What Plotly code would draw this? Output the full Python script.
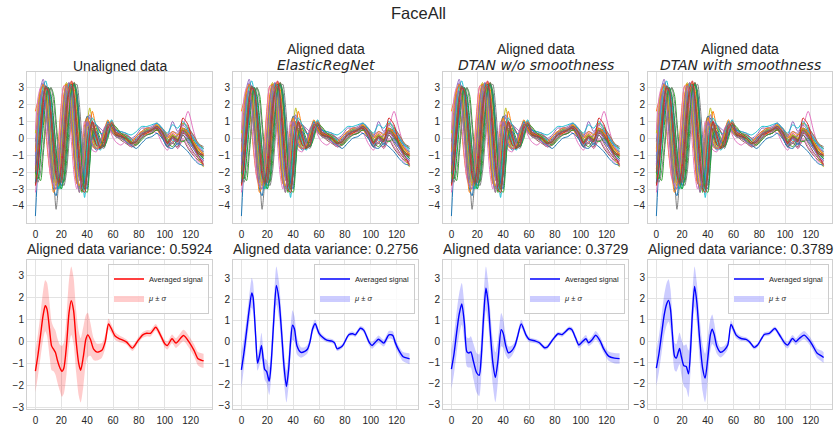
import plotly.graph_objects as go

# ---------------- data: top row (individual series, sampled time grid) ----------------
top_t = [0, 2, 4, 6, 8, 10, 12, 14, 16, 18, 20, 22, 24, 26, 28, 30, 32, 34, 36, 38, 40, 42, 44,
         47, 50, 53, 56, 59, 62, 66, 70, 74, 78, 82, 86, 90, 94, 98, 102, 106, 110, 114, 118, 122, 126, 130]

series_01 = [-4.6, -1.5, 1.2, 2.6, 2.9, 1.5, -0.8, -2.2, -2.6, -1.8, 0.2, 2.2, 3.2, 3.0, 1.6, -0.5, -2.3, -2.9, -2.0, -0.3, 0.9, 0.6, -0.3,
             -0.7, -0.5, 0.3, 1.0, 0.4, 0.1, 0.0, -0.1, -0.4, 0.0, 0.3, 0.5, 0.4, 0.7, 0.2, -0.4, 0.1, -0.2, 0.5, 0.0, -0.5, -0.9, -1.2]
series_02 = [1.6, 2.2, 2.6, 1.8, 0.4, -1.2, -2.3, -2.6, -1.9, 0.0, 2.0, 3.1, 3.2, 2.2, 0.5, -1.4, -2.7, -2.4, -0.8, 0.8, 1.3, 0.4, -0.5,
             -0.6, -0.2, 0.5, 0.8, 0.3, 0.2, 0.1, -0.2, -0.3, 0.1, 0.4, 0.3, 0.6, 0.5, 0.0, -0.2, 0.3, 0.0, 0.3, 0.2, -0.2, -0.7, -0.9]
series_03 = [-1.0, -2.2, -2.5, -1.0, 0.8, 2.4, 3.0, 2.6, 1.0, -0.8, -2.2, -2.6, -1.5, 0.5, 2.4, 3.3, 2.8, 1.0, -1.2, -2.6, -2.2, -0.4, 0.6,
             0.0, -0.6, -0.3, 0.7, 0.9, 0.3, 0.2, 0.1, -0.2, -0.3, 0.2, 0.5, 0.5, 0.8, 0.4, -0.1, 0.0, 0.2, 0.6, 0.4, -0.1, -0.6, -0.8]
series_04 = [-2.3, -1.0, 0.6, 2.2, 3.0, 2.6, 1.0, -0.8, -2.0, -2.6, -2.2, -0.8, 1.2, 2.8, 3.2, 2.4, 0.4, -1.6, -2.8, -2.4, -0.6, 1.0, 0.8,
             -0.3, -0.5, 0.0, 0.8, 0.6, 0.2, 0.1, 0.0, -0.3, -0.2, 0.3, 0.4, 0.5, 0.6, 0.3, -0.3, 0.2, -0.1, 0.4, 0.3, -0.3, -0.8, -1.0]
series_05 = [-0.2, 1.8, 3.0, 3.5, 2.8, 1.0, -1.0, -2.4, -2.8, -2.0, -0.3, 1.6, 3.0, 3.3, 2.4, 0.6, -1.2, -2.4, -2.6, -1.2, 0.4, 1.0, 0.8,
             0.2, -0.3, 0.2, 0.9, 0.6, 0.5, 0.3, 0.2, -0.1, 0.1, 0.4, 0.6, 0.6, 0.9, 0.6, 0.2, 0.4, 0.3, 0.9, 0.7, 0.1, -0.4, -0.6]
series_06 = [-1.8, -0.4, 1.4, 2.7, 3.0, 2.2, 0.3, -1.4, -2.4, -2.7, -1.6, 0.4, 2.3, 3.1, 2.9, 1.4, -0.6, -2.2, -2.9, -2.0, -0.2, 0.9, 0.9,
             0.7, 0.4, 0.0, 0.3, 0.6, 0.2, -0.1, -0.3, -0.5, -0.3, 0.1, 0.2, 0.3, 0.5, 0.2, -0.5, -0.2, -0.6, -0.1, -0.6, -1.0, -1.3, -1.5]
series_07 = [-3.2, -2.0, 0.0, 1.8, 2.9, 2.8, 1.6, -0.2, -1.8, -2.8, -2.6, -1.0, 1.0, 2.6, 3.1, 2.7, 1.2, -0.8, -2.3, -2.7, -1.4, 0.4, 1.0,
             0.2, -0.4, -0.2, 0.6, 0.8, 0.4, 0.2, 0.0, -0.2, -0.1, 0.2, 0.4, 0.4, 0.6, 0.5, 0.0, 0.3, 0.1, 0.7, 1.6, 0.5, -0.5, -0.9]
series_08 = [-1.2, 0.5, 2.0, 2.8, 2.6, 1.3, -0.6, -2.2, -4.2, -2.6, -1.0, 1.0, 2.6, 3.2, 3.0, 1.8, 0.0, -1.8, -2.8, -2.6, -1.0, 0.6, 1.0,
             0.3, -0.5, -0.4, 0.7, 0.7, 0.3, 0.1, 0.0, -0.3, -0.2, 0.3, 0.4, 0.6, 0.7, 0.3, -0.2, 0.1, 0.0, 0.5, 0.1, -0.4, -0.9, -1.1]
series_09 = [0.3, 2.0, 2.9, 3.0, 2.1, 0.4, -1.4, -2.6, -2.6, -1.4, 0.6, 2.5, 3.3, 3.0, 1.6, -0.3, -2.0, -3.2, -2.4, -0.6, 0.8, 1.8, 1.0,
             0.0, -0.5, 0.1, 0.8, 0.5, 0.3, 0.2, 0.0, -0.4, -0.3, 0.1, 0.3, 0.5, 0.7, 0.1, -0.4, 0.0, -0.3, 0.9, 0.6, -0.2, -1.2, -1.7]
series_10 = [-2.6, -2.4, -0.8, 1.2, 2.6, 3.0, 2.2, 0.4, -1.4, -2.6, -3.0, -1.6, 0.4, 2.2, 3.1, 3.2, 2.0, 0.0, -1.8, -3.5, -2.0, -0.3, 0.5,
             -0.2, -0.7, -0.4, 0.5, 1.1, 0.4, 0.2, 0.1, -0.1, -0.2, 0.1, 0.4, 0.6, 0.7, 0.6, 0.1, -0.1, -0.2, 0.3, 0.4, 0.0, -0.4, -0.7]
series_11 = [-0.6, 1.0, 2.5, 3.2, 2.4, 0.6, -1.6, -3.0, -3.4, -2.0, 0.0, 2.0, 3.0, 2.6, 1.0, -1.0, -2.5, -3.0, -1.6, 0.2, 1.3, 1.2, 0.2,
             -0.6, -0.6, 0.2, 1.0, 0.5, 0.2, 0.1, -0.1, -0.4, -0.1, 0.3, 0.5, 0.4, 0.6, 0.1, -0.5, 0.0, -0.4, 0.2, -0.2, -0.6, -1.0, -1.3]
series_12 = [-2.0, -0.8, 0.8, 2.0, 2.9, 2.7, 1.4, -0.4, -2.0, -2.8, -2.6, -1.2, 0.8, 2.5, 3.3, 2.9, 1.4, -0.6, -2.2, -2.8, -1.8, 0.2, 1.6,
             0.6, -0.2, -0.5, 0.3, 1.0, 0.6, 0.3, 0.2, 0.0, -0.3, 0.0, 0.3, 0.4, 0.5, 0.6, 0.2, -0.2, 0.0, 0.3, 0.5, 0.2, -0.3, -0.6]
series_13 = [-2.7, -1.6, 0.4, 2.2, 3.1, 2.5, 0.8, -1.0, -2.2, -3.0, -2.4, -0.6, 1.6, 3.0, 3.2, 2.0, 0.0, -1.9, -3.2, -2.2, -0.4, 0.7, 0.4,
             -0.4, -0.6, 0.0, 0.9, 0.5, 0.2, 0.2, -0.1, -0.3, -0.1, 0.3, 0.4, 0.5, 0.7, 0.2, -0.3, 0.2, -0.1, 0.6, 0.2, -0.4, -0.8, -1.1]
series_14 = [-1.5, 0.0, 1.6, 2.6, 2.6, 1.6, 0.0, -1.6, -2.5, -2.4, -1.2, 0.6, 2.2, 2.9, 2.6, 1.2, -0.8, -2.3, -2.6, -1.4, 0.2, 0.8, 0.3,
             -0.4, -0.5, 0.1, 0.7, 0.5, 0.2, 0.1, 0.0, -0.3, -0.1, 0.3, 0.4, 0.5, 0.6, 0.2, -0.3, 0.1, -0.1, 0.3, 0.1, -0.3, -0.9, -1.0]
series_15 = [-1.0, 0.8, 2.4, 3.3, 3.0, 1.8, -0.2, -1.8, -2.6, -2.2, -0.8, 1.2, 2.8, 3.3, 2.6, 0.9, -1.0, -2.4, -2.6, -1.0, 0.6, 1.4, 1.0,
             0.8, 0.6, 0.4, 0.7, 0.7, 0.5, 0.4, 0.3, 0.0, 0.2, 0.6, 0.6, 0.7, 0.9, 0.5, 0.1, 1.0, 0.4, 0.8, 0.4, 0.0, -0.5, -0.8]
series_16 = [-2.2, -1.2, 0.2, 1.6, 2.4, 2.4, 1.6, 0.2, -1.4, -2.4, -2.6, -1.8, 0.0, 1.8, 3.0, 3.3, 2.4, 0.6, -1.4, -2.9, -2.2, -0.7, 0.4,
             0.8, 0.4, -0.1, 0.2, 0.6, 0.3, 0.0, -0.2, -0.5, -0.4, 0.0, 0.2, 0.3, 0.5, 0.1, -0.5, -0.3, -0.5, 0.2, -0.3, -0.8, -1.2, -1.4]
series_17 = [0.5, 2.4, 3.0, 2.4, 0.8, -1.0, -2.4, -2.8, -2.2, -0.4, 1.8, 3.1, 3.0, 1.6, -0.4, -2.2, -3.0, -2.2, -0.4, 1.0, 0.6, -0.3, -0.7,
             -0.8, -0.3, 0.6, 0.9, 0.2, -0.2, -0.4, -0.2, -0.5, -0.2, 0.1, 0.2, 0.4, 0.3, -0.3, -0.7, -0.2, -0.6, 0.0, -0.5, -0.9, -1.4, -1.3]
series_18 = [-2.0, -2.6, -2.0, -0.6, 1.2, 2.6, 3.0, 2.2, 0.6, -1.2, -2.4, -2.8, -2.0, -0.2, 1.8, 3.0, 3.2, 2.0, 0.0, -2.0, -2.8, -1.2, 0.2,
             0.4, -0.3, -0.6, 0.3, 1.0, 0.6, 0.3, 0.2, 0.0, -0.3, 0.0, 0.4, 0.4, 0.7, 0.6, 0.0, -0.3, 0.2, 0.3, 0.6, 0.2, -0.3, -0.5]
series_19 = [-2.4, -0.4, 1.6, 2.9, 2.8, 1.6, -0.2, -1.8, -2.8, -2.2, -0.4, 1.6, 3.0, 3.1, 2.0, 0.2, -1.8, -3.0, -2.4, -0.8, 0.6, 0.8, 0.0,
             -0.5, -0.4, 0.2, 0.8, 0.5, 0.1, 0.0, -0.1, -0.4, -0.1, 0.3, 0.5, 0.5, 0.8, 0.3, -0.2, 0.2, 0.0, 0.5, 0.2, -0.2, -0.7, -0.9]
series_20 = [-1.4, 0.2, 1.8, 3.0, 3.4, 2.6, 0.8, -1.0, -2.4, -3.0, -2.0, 0.0, 2.0, 3.2, 3.1, 1.8, -0.2, -2.0, -3.0, -2.4, -0.6, 0.8, 1.2,
             0.8, 0.3, 0.3, 1.0, 0.8, 0.5, 0.4, 0.3, 0.2, 0.4, 0.7, 0.7, 0.8, 0.9, 0.6, 0.3, 0.8, 0.6, 1.0, 0.5, 0.0, -0.4, -0.6]
series_21 = [-2.6, -1.4, 0.0, 1.4, 2.5, 3.0, 2.4, 1.0, -0.6, -2.0, -2.8, -2.4, -0.8, 1.2, 2.8, 3.2, 2.6, 1.0, -1.0, -2.6, -3.0, -1.4, 0.0,
             0.4, -0.2, -0.5, 0.2, 0.8, 0.5, 0.2, -0.2, -0.4, -0.6, -0.3, 0.0, 0.1, 0.3, 0.0, -0.5, -0.6, -0.3, -0.5, -0.8, -1.2, -1.5, -1.6]
series_22 = [-0.8, 1.2, 2.8, 3.2, 2.2, 0.2, -1.8, -3.2, -2.8, -1.2, 0.8, 2.6, 3.2, 2.4, 0.8, -1.2, -2.6, -2.8, -1.8, 0.0, 1.2, 0.8, -0.2,
             -0.6, -0.5, 0.4, 1.1, 0.6, 0.3, 0.2, 0.1, -0.2, 0.1, 0.4, 0.6, 0.6, 0.8, 0.4, 0.0, 0.4, 0.2, 0.6, 0.3, -0.2, -0.6, -1.0]
series_23 = [-2.0, -2.4, -1.2, 0.6, 2.2, 3.0, 2.6, 1.2, -0.8, -2.4, -3.0, -2.4, -0.6, 1.4, 2.9, 3.2, 2.2, 0.4, -1.6, -3.0, -3.2, -1.6, 0.2,
             0.6, 0.0, -0.5, 0.0, 0.8, 0.7, 0.3, 0.1, -0.2, -0.4, -0.1, 0.2, 0.3, 0.5, 0.4, -0.2, -0.5, -0.1, -0.2, 0.0, -0.4, -0.9, -1.2]
series_24 = [-2.8, -1.8, 0.2, 2.0, 3.0, 2.8, 1.2, -0.6, -2.2, -2.6, -1.8, -0.2, 1.8, 3.0, 3.4, 2.2, 0.2, -1.6, -3.0, -3.2, -1.8, 0.2, 1.0,
             0.2, -0.6, -0.4, 0.6, 0.9, 0.4, 0.2, 0.0, -0.3, -0.2, 0.2, 0.3, 0.5, 0.7, 0.3, -0.3, 0.0, -0.2, 1.2, 0.8, -0.4, -1.0, -1.6]
series_25 = [-1.6, 0.8, 2.4, 2.8, 1.8, 0.0, -1.8, -2.8, -3.0, -1.6, 0.4, 2.2, 3.1, 2.8, 1.2, -0.8, -2.4, -3.2, -2.0, -0.2, 1.0, 0.6, -0.4,
             -0.6, -0.3, 0.5, 0.9, 0.4, 0.1, 0.0, -0.2, -0.4, -0.1, 0.3, 0.4, 0.6, 0.7, 0.2, -0.4, 0.0, -0.3, 0.4, -0.1, -0.6, -1.1, -1.3]
series_26 = [-2.0, -0.6, 1.0, 2.4, 3.1, 2.9, 1.6, -0.2, -1.8, -2.7, -2.4, -0.8, 1.2, 2.7, 3.1, 2.5, 0.9, -1.0, -2.6, -3.0, -1.6, 0.4, 0.9,
             0.0, -0.5, -0.2, 0.8, 0.7, 0.3, 0.1, 0.0, -0.3, -0.2, 0.2, 0.4, 0.5, 0.7, 0.4, -0.2, 0.1, -0.1, 0.5, 0.2, -0.3, -0.8, -1.0]

top_series = [series_01, series_02, series_03, series_04, series_05, series_06, series_07, series_08,
              series_09, series_10, series_11, series_12, series_13, series_14, series_15, series_16,
              series_17, series_18, series_19, series_20, series_21, series_22, series_23, series_24,
              series_25, series_26]

# ---------------- data: bottom row (mean and std of aligned data) ----------------
unal_t = [0, 2, 4, 6, 7.6, 9, 11, 12.5, 14, 15.5, 17, 19, 20.5, 22, 24, 26, 27.7, 29.5, 31.5, 33.5, 35, 37, 39, 40.5,
          42.5, 45, 47.6, 51.4, 54, 56.5, 58.5, 61.6, 65, 68, 70.5, 75, 79.4, 83, 86, 89, 93, 96, 100, 102,
          105.6, 108.7, 114.5, 118.8, 122.6, 125.7, 128.5, 130]
unal_mean = [-1.34, -0.6, 0.3, 1.2, 1.61, 1.45, 0.5, -0.2, -0.35, -0.5, -0.85, -1.2, -1.35, -1.2, -0.2, 1.3, 1.84, 1.4, 0.0, -1.0, -1.3, -0.7, 0.1, 0.3,
             0.1, -0.35, -0.48, -0.4, 0.0, 0.79, 0.6, 0.25, 0.12, 0.05, -0.03, -0.3, 0.05, 0.3, 0.37, 0.37, 0.64, 0.37, -0.1, -0.18,
             0.12, -0.07, 0.27, -0.03, -0.4, -0.78, -0.85, -0.87]
unal_std = [0.95, 0.95, 1.0, 1.1, 1.15, 1.2, 1.2, 1.1, 1.0, 1.0, 1.0, 1.05, 1.15, 1.15, 1.3, 1.5, 1.55, 1.5, 1.4, 1.45, 1.45, 1.35, 1.1, 1.0,
            0.75, 0.5, 0.38, 0.33, 0.3, 0.25, 0.2, 0.18, 0.15, 0.13, 0.12, 0.13, 0.13, 0.13, 0.14, 0.15, 0.15, 0.15, 0.17, 0.18,
            0.2, 0.22, 0.26, 0.27, 0.28, 0.3, 0.32, 0.32]

ern_t = [0, 2, 4, 6, 8, 9, 11, 12.5, 14, 15.5, 17, 18, 19.5, 21.5, 23, 25, 27, 29, 31, 33, 34.8, 36.5, 38, 39.5, 41, 43,
         46, 49, 51, 53, 55, 57, 60, 63, 66, 70, 72, 74, 78, 83, 86, 88, 92, 94.5, 99, 101, 103.5, 106, 110, 114,
         117, 119, 121.5, 125, 129, 130]
ern_mean = [-1.32, -0.5, 0.5, 1.5, 2.3, 2.1, 0.3, -1.0, -0.65, -0.17, -0.9, -1.3, -1.4, -1.85, -1.0, 1.0, 2.65, 2.0, 0.5, -1.2, -2.1, -1.3, 0.0, 0.78, 0.6, -0.2,
            -0.5, -0.45, -0.35, 0.0, 0.6, 0.85, 0.4, 0.2, 0.08, 0.03, -0.05, -0.33, -0.2, 0.33, 0.38, 0.33, 0.64, 0.55, -0.05, -0.17, -0.02, 0.12, -0.06, 0.33,
            0.3, -0.05, -0.38, -0.7, -0.78, -0.8]
ern_std = [0.85, 0.7, 0.6, 0.65, 0.7, 0.7, 0.5, 0.35, 0.45, 0.6, 0.5, 0.5, 0.55, 0.65, 0.7, 0.8, 0.9, 0.85, 0.8, 0.75, 0.75, 0.75, 0.7, 0.7, 0.6, 0.4,
           0.25, 0.2, 0.2, 0.2, 0.2, 0.2, 0.15, 0.12, 0.1, 0.1, 0.1, 0.1, 0.1, 0.1, 0.1, 0.1, 0.1, 0.12, 0.15, 0.16, 0.16, 0.18, 0.16, 0.18,
           0.2, 0.2, 0.2, 0.22, 0.25, 0.25]

dtan_t = [0, 2, 4, 6, 8, 10, 12, 13.5, 15, 17, 19.5, 21.5, 23, 25, 26.7, 28.5, 30, 32, 34, 36, 38.5, 40, 42, 44, 46.5, 49,
          51, 54, 57.5, 60, 65, 68, 72, 74, 78.5, 82.5, 85.5, 91, 93, 96, 98.5, 100.5, 104, 106, 109, 111.5, 115, 117.5,
          121.5, 126, 130]
dtan_mean = [-1.33, -0.6, 0.4, 1.3, 1.8, 0.9, -0.5, -0.55, -0.5, -0.95, -1.5, -1.62, -0.8, 1.3, 2.55, 1.8, 0.5, -1.0, -1.72, -0.9, 0.57, 0.4, -0.2, -0.54, -0.46, -0.22,
             0.2, 0.84, 0.33, 0.1, 0.02, -0.06, -0.3, -0.27, 0.1, 0.37, 0.33, 0.62, 0.57, 0.17, -0.17, -0.06, 0.13, -0.06, 0.1, 0.3, 0.02, -0.33,
             -0.7, -0.8, -0.82]
dtan_std = [0.95, 0.95, 1.0, 1.0, 1.0, 0.9, 0.7, 0.7, 0.75, 0.85, 0.95, 1.0, 1.0, 1.05, 1.05, 1.0, 1.0, 1.1, 1.2, 1.0, 0.8, 0.7, 0.45, 0.3, 0.25, 0.2,
            0.2, 0.2, 0.15, 0.12, 0.1, 0.1, 0.1, 0.1, 0.1, 0.1, 0.1, 0.1, 0.12, 0.15, 0.16, 0.16, 0.18, 0.16, 0.18, 0.2, 0.2, 0.2,
            0.22, 0.25, 0.25]

dtans_t = [0, 2, 4, 6, 8, 9.5, 11, 12.5, 14.2, 15.5, 18, 19.4, 21.4, 23.2, 25, 26.5, 28, 29.7, 31.5, 33.5, 36, 37.9, 40, 42, 43.4,
           45, 47, 49.8, 52.9, 55.5, 58, 60, 62, 65.8, 69.7, 72.3, 76, 78.7, 83.9, 87.7, 92.1, 95.5, 99.9, 102, 105.8, 108.4,
           111, 114.8, 118.7, 121.3, 125, 128.3, 130]
dtans_mean = [-1.28, -0.6, 0.3, 1.2, 1.75, 1.92, 1.5, 0.3, -0.73, -0.8, -0.35, -0.73, -1.17, -1.2, -1.55, -0.5, 1.3, 2.58, 1.8, 0.2, -1.3, -1.75, -0.8, 0.3, 0.56,
              0.3, -0.25, -0.53, -0.42, -0.19, 0.78, 0.55, 0.28, 0.12, 0.08, -0.03, -0.3, -0.19, 0.31, 0.36, 0.59, 0.31, -0.11, -0.19, 0.12, -0.03,
              0.12, 0.28, 0.05, -0.19, -0.58, -0.7, -0.78]
dtans_std = [0.85, 0.85, 0.9, 0.95, 1.0, 1.0, 0.95, 0.8, 0.65, 0.65, 0.75, 0.85, 0.95, 1.05, 1.1, 1.0, 0.95, 0.95, 0.95, 1.0, 1.1, 1.15, 1.0, 0.75, 0.7,
             0.55, 0.35, 0.25, 0.2, 0.2, 0.2, 0.17, 0.15, 0.12, 0.1, 0.1, 0.1, 0.1, 0.1, 0.1, 0.1, 0.12, 0.15, 0.16, 0.16, 0.16,
             0.18, 0.2, 0.2, 0.2, 0.22, 0.25, 0.25]

top_titles = [["Unaligned data"],
              ["Aligned data", "ElasticRegNet"],
              ["Aligned data", "DTAN w/o smoothness"],
              ["Aligned data", "DTAN with smoothness"]]
variances = ["0.5924", "0.2756", "0.3729", "0.3789"]
bottom_sets = [(unal_t, unal_mean, unal_std), (ern_t, ern_mean, ern_std),
               (dtan_t, dtan_mean, dtan_std), (dtans_t, dtans_mean, dtans_std)]
bottom_colors = ["#ff0000", "#0000ff", "#0000ff", "#0000ff"]
bottom_fills = ["rgba(255,0,0,0.2)", "rgba(0,0,255,0.2)", "rgba(0,0,255,0.2)", "rgba(0,0,255,0.2)"]

tab10 = ["#1f77b4", "#ff7f0e", "#2ca02c", "#d62728", "#9467bd",
         "#8c564b", "#e377c2", "#7f7f7f", "#bcbd22", "#17becf"]

# ---------------- layout geometry (pixels) ----------------
W, H = 836, 433
col_px = [(27, 212), (233, 418), (443, 628), (648, 832)]
top_px = (73, 225)
bot_px = (262, 413)

def xdom(c):
    return [col_px[c][0] / W, col_px[c][1] / W]

def ydom(r):
    a, b = r
    return [1 - b / H, 1 - a / H]

TXT = "#262626"
GRID = "#e3e3e3"
FRAME = "#d0d0d0"
FONT = "Liberation Sans, Arial, sans-serif"
SPL = dict(shape="spline", smoothing=0.7)

fig = go.Figure()
layout = dict(width=W, height=H, margin=dict(l=0, r=0, t=0, b=0),
              paper_bgcolor="white", plot_bgcolor="white",
              font=dict(family=FONT, color=TXT, size=10), showlegend=True)

axis_common = dict(showgrid=True, gridcolor=GRID, gridwidth=1, zeroline=False,
                   showline=True, linecolor=FRAME, linewidth=1, mirror=True,
                   ticks="", tickfont=dict(size=10, color=TXT))

all_top = [v for s in top_series for v in s]
tlo, thi = min(all_top), max(all_top)
tpad = 0.05 * (thi - tlo)

annotations = []
for c in range(4):
    # top row
    ti = 2 * c + 1
    xa = "x" if ti == 1 else f"x{ti}"
    ya = "y" if ti == 1 else f"y{ti}"
    for k, s in enumerate(top_series):
        fig.add_trace(go.Scatter(x=top_t, y=s, mode="lines", xaxis=xa, yaxis=ya,
                                 line=dict(color=tab10[k % 10], width=1, **SPL), showlegend=False,
                                 hoverinfo="skip"))
    layout["xaxis" if ti == 1 else f"xaxis{ti}"] = dict(axis_common, domain=xdom(c), anchor=ya,
                                                         range=[-6.5, 136.5], tickvals=[0, 20, 40, 60, 80, 100, 120],
                                                         ticklabelstandoff=2)
    layout["yaxis" if ti == 1 else f"yaxis{ti}"] = dict(axis_common, domain=ydom(top_px), anchor=xa,
                                                         range=[tlo - tpad, thi + tpad], tickvals=[-4, -3, -2, -1, 0, 1, 2, 3],
                                                         ticklabelstandoff=0)
    cx = (col_px[c][0] + col_px[c][1]) / 2 / W
    if len(top_titles[c]) == 1:
        annotations.append(dict(text=top_titles[c][0], x=cx, y=1 - 66.5 / H, xref="paper", yref="paper",
                                showarrow=False, xanchor="center", yanchor="middle",
                                font=dict(size=14, color=TXT, family=FONT)))
    else:
        annotations.append(dict(text=top_titles[c][0], x=cx, y=1 - 49.5 / H, xref="paper", yref="paper",
                                showarrow=False, xanchor="center", yanchor="middle",
                                font=dict(size=14, color=TXT, family=FONT)))
        annotations.append(dict(text="<i>" + top_titles[c][1] + "</i>", x=cx, y=1 - 66 / H, xref="paper", yref="paper",
                                showarrow=False, xanchor="center", yanchor="middle",
                                font=dict(size=14, color=TXT, family="DejaVu Sans")))

    # bottom row
    bi = 2 * c + 2
    xb, yb = f"x{bi}", f"y{bi}"
    t, m, sd = bottom_sets[c]
    lo = [a - b for a, b in zip(m, sd)]
    hi = [a + b for a, b in zip(m, sd)]
    leg = "legend" if c == 0 else f"legend{c + 1}"
    fig.add_trace(go.Scatter(x=t, y=lo, mode="lines", xaxis=xb, yaxis=yb, line=dict(width=0, **SPL),
                             showlegend=False, hoverinfo="skip"))
    fig.add_trace(go.Scatter(x=t, y=hi, mode="lines", xaxis=xb, yaxis=yb, line=dict(width=0, **SPL),
                             fill="tonexty", fillcolor=bottom_fills[c], name="<i>μ</i> ± <i>σ</i>",
                             legend=leg, legendrank=2, hoverinfo="skip"))
    fig.add_trace(go.Scatter(x=t, y=m, mode="lines", xaxis=xb, yaxis=yb, name="Averaged signal",
                             line=dict(color=bottom_colors[c], width=1.4, **SPL), legend=leg, legendrank=1,
                             hoverinfo="skip"))
    blo, bhi = min(lo), max(hi)
    bpad = 0.05 * (bhi - blo)
    yt = [v for v in range(-3, 4) if blo - bpad <= v <= bhi + bpad]
    layout[f"xaxis{bi}"] = dict(axis_common, domain=xdom(c), anchor=yb, range=[-6.5, 136.5],
                                tickvals=[0, 20, 40, 60, 80, 100, 120], ticklabelstandoff=2)
    layout[f"yaxis{bi}"] = dict(axis_common, domain=ydom(bot_px), anchor=xb,
                                range=[blo - bpad, bhi + bpad], tickvals=yt, ticklabelstandoff=0)
    annotations.append(dict(text="Aligned data variance: " + variances[c], x=cx, y=1 - 251.5 / H,
                            xref="paper", yref="paper", showarrow=False, xanchor="center", yanchor="middle",
                            font=dict(size=14, color=TXT, family=FONT)))
    layout[leg] = dict(x=(col_px[c][1] - 3) / W, y=1 - (bot_px[0] + 4) / H, xanchor="right", yanchor="top",
                       bgcolor="rgba(255,255,255,0.8)", bordercolor="#cccccc", borderwidth=1,
                       font=dict(size=7.5, color=TXT, family=FONT), itemwidth=30, tracegroupgap=0,
                       traceorder="normal")

annotations.append(dict(text="FaceAll", x=0.5, y=1 - 13 / H, xref="paper", yref="paper", showarrow=False,
                        xanchor="center", yanchor="middle", font=dict(size=16.5, color=TXT, family=FONT)))
layout["annotations"] = annotations
fig.update_layout(**layout)

fig.write_html("out.html", config={"displayModeBar": False},
               post_script="document.body.style.margin='0px';document.body.style.overflow='hidden';")
